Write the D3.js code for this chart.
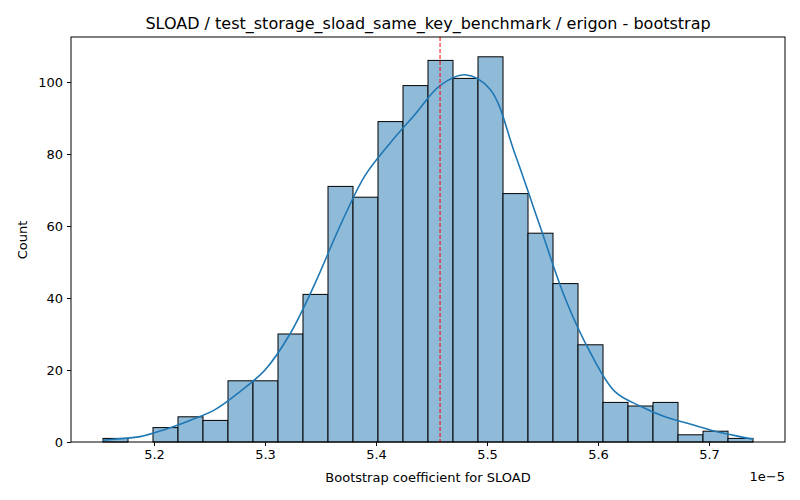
<!DOCTYPE html>
<html><head><meta charset="utf-8">
<script src="https://cdn.jsdelivr.net/npm/d3@7"></script>
<style>body{margin:0;background:#fff}text{font-family:"DejaVu Sans",sans-serif}</style>
</head><body><svg id="c" width="800" height="500"></svg>
<script>
// histogram bins (x in units of 1e-5)
var binStart = 5.15405, binWidth = 0.022523;
var counts = [1,0,4,7,6,17,17,30,41,71,68,89,99,106,101,107,69,58,44,27,11,10,11,2,3,1];
// kde curve
var kdeX = [5.1541,5.1649,5.1874,5.2099,5.2324,5.2550,5.2775,5.3000,5.3225,5.3450,5.3676,5.3901,5.4126,5.4351,5.4577,5.4802,5.5027,5.5252,5.5477,5.5703,5.5928,5.6153,5.6378,5.6604,5.6829,5.7054,5.7279,5.7397];
var kdeY = [0.5,0.8,1.5,3.5,6,9,14,20,30,44,60,74,83,91,99,102,98,80,60,40,25,14,10,7,5,3,1.5,0.8];
var meanX = 5.4577;
var xTicks = [5.2,5.3,5.4,5.5,5.6,5.7];
var yTicks = [0,20,40,60,80,100];

var svg = d3.select("#c");
var L = 71, R = 785, T = 37, B = 442;
var x = d3.scaleLinear().domain([5.2,5.7]).range([154,709]);
var y = d3.scaleLinear().domain([0,100]).range([B,82]);

svg.append("g").selectAll("rect").data(counts).join("rect")
  .attr("x", function(d,i){return x(binStart+i*binWidth);})
  .attr("width", function(d,i){return x(binStart+(i+1)*binWidth)-x(binStart+i*binWidth);})
  .attr("y", function(d){return y(d);})
  .attr("height", function(d){return B-y(d);})
  .attr("fill", "#8fbbd9").attr("stroke", "#000").attr("stroke-width", 1)
  .style("display", function(d){return d ? null : "none";});

var pts = kdeX.map(function(v,i){return [v,kdeY[i]];});
svg.append("path").datum(pts)
  .attr("d", d3.line().x(function(d){return x(d[0]);}).y(function(d){return y(d[1]);}).curve(d3.curveCatmullRom))
  .attr("fill","none").attr("stroke","#1f77b4").attr("stroke-width",1.6);

svg.append("line").attr("x1",x(meanX)).attr("x2",x(meanX)).attr("y1",T).attr("y2",B)
  .attr("stroke","red").attr("stroke-dasharray","4,2").attr("stroke-width",1);

svg.append("rect").attr("x",L).attr("y",T).attr("width",R-L).attr("height",B-T)
  .attr("fill","none").attr("stroke","#000").attr("stroke-width",1);

var gx = svg.append("g").attr("transform","translate(0,"+B+")")
  .call(d3.axisBottom(x).tickValues(xTicks).tickSize(4).tickPadding(4).tickFormat(d3.format(".1f")));
var gy = svg.append("g").attr("transform","translate("+L+",0)")
  .call(d3.axisLeft(y).tickValues(yTicks).tickSize(4).tickPadding(4));
[gx,gy].forEach(function(g){
  g.select(".domain").remove();
  g.selectAll("text").attr("font-size",13).attr("fill","#000").attr("font-family","DejaVu Sans");
});

svg.append("text").attr("x",785).attr("y",481).attr("text-anchor","end").attr("font-size",13).text("1e\u22125");
svg.append("text").attr("x",428).attr("y",482).attr("text-anchor","middle").attr("font-size",13).text("Bootstrap coefficient for SLOAD");
svg.append("text").attr("transform","translate(27,240) rotate(-90)").attr("text-anchor","middle").attr("font-size",13).text("Count");
svg.append("text").attr("x",428).attr("y",29).attr("text-anchor","middle").attr("font-size",16).text("SLOAD / test_storage_sload_same_key_benchmark / erigon - bootstrap");
</script></body></html>
